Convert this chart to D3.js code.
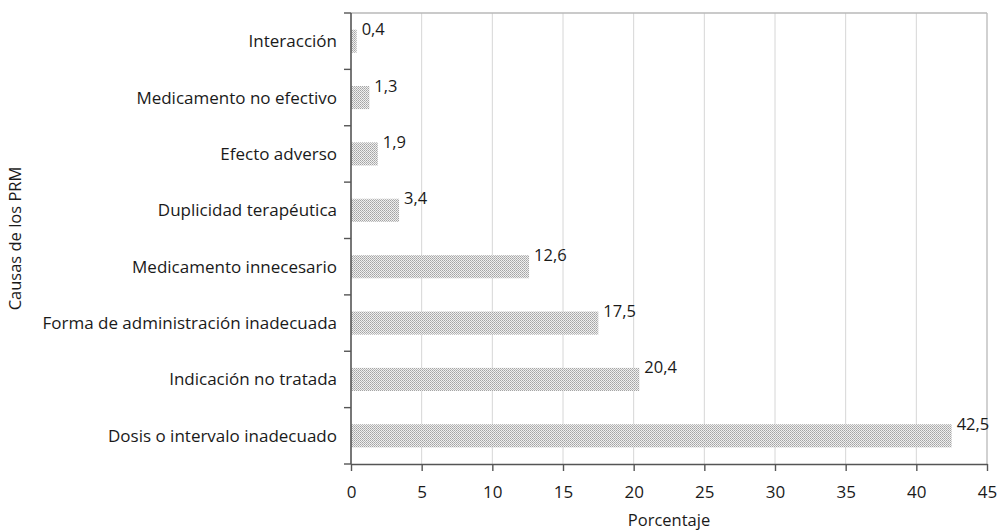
<!DOCTYPE html>
<html>
<head>
<meta charset="utf-8">
<script src="https://cdn.jsdelivr.net/npm/d3@7"></script>
<style>
  html, body { margin: 0; padding: 0; background: #fff; }
  svg { display: block; }
  text { font-family: "Open Sans", sans-serif; fill: #1a1a1a; }
</style>
</head>
<body>
<svg id="chart" width="997" height="532"></svg>
<script>
const categories = [
  "Interacción",
  "Medicamento no efectivo",
  "Efecto adverso",
  "Duplicidad terapéutica",
  "Medicamento innecesario",
  "Forma de administración inadecuada",
  "Indicación no tratada",
  "Dosis o intervalo inadecuado"
];
const values = [0.4, 1.3, 1.9, 3.4, 12.6, 17.5, 20.4, 42.5];
const valueLabels = ["0,4", "1,3", "1,9", "3,4", "12,6", "17,5", "20,4", "42,5"];
const xTicks = [0, 5, 10, 15, 20, 25, 30, 35, 40, 45];
const xTitle = "Porcentaje";
const yTitle = "Causas de los PRM";

const svg = d3.select("#chart");
const mLeft = 351, mRight = 987, mTop = 13, mBottom = 464;

const defs = svg.append("defs");
const pat = defs.append("pattern")
  .attr("id", "tex").attr("patternUnits", "userSpaceOnUse")
  .attr("width", 2).attr("height", 2);
pat.append("rect").attr("width", 2).attr("height", 2).attr("fill", "#efefef");
pat.append("rect").attr("x", 0).attr("y", 0).attr("width", 1).attr("height", 1).attr("fill", "#a4a4a4");
pat.append("rect").attr("x", 1).attr("y", 1).attr("width", 1).attr("height", 1).attr("fill", "#b6b6b6");

const x = d3.scaleLinear().domain([0, 45]).range([mLeft, mRight]);
const y = d3.scaleBand().domain(categories).range([mTop, mBottom]).paddingInner(0.59).paddingOuter(0.295);
const yb = d3.scaleLinear().domain([0, categories.length]).range([mTop, mBottom]);

// gridlines
svg.append("g").selectAll("line").data(xTicks.filter(t => t > 0 && t < 45)).join("line")
  .attr("x1", d => x(d)).attr("x2", d => x(d)).attr("y1", mTop).attr("y2", mBottom)
  .attr("stroke", "#d6d6d6").attr("stroke-width", 1);
// top and right border
svg.append("line").attr("x1", mLeft).attr("x2", mRight).attr("y1", mTop).attr("y2", mTop)
  .attr("stroke", "#b8b8b8").attr("stroke-width", 1.3);
svg.append("line").attr("x1", mRight).attr("x2", mRight).attr("y1", mTop).attr("y2", mBottom)
  .attr("stroke", "#b8b8b8").attr("stroke-width", 1.3);

// bars
svg.append("g").selectAll("rect").data(categories).join("rect")
  .attr("x", x(0))
  .attr("y", d => y(d))
  .attr("width", (d, i) => x(values[i]) - x(0))
  .attr("height", y.bandwidth())
  .attr("fill", "url(#tex)");

// value labels
svg.append("g").selectAll("text").data(categories).join("text")
  .attr("x", (d, i) => x(values[i]) + 5)
  .attr("y", d => y(d) + y.bandwidth() / 2 - 6)
  .attr("font-size", 16.5)
  .text((d, i) => valueLabels[i]);

// x axis
const xAxis = d3.axisBottom(x).tickValues(xTicks).tickSize(7).tickSizeOuter(0).tickPadding(15);
const gx = svg.append("g").attr("transform", `translate(0,${mBottom})`).call(xAxis);
gx.select(".domain").attr("stroke", "#555").attr("stroke-width", 1.6);
gx.selectAll(".tick line").attr("stroke", "#555").attr("stroke-width", 1.4);
gx.selectAll(".tick text").attr("font-size", 17).attr("font-family", "Open Sans").attr("fill", "#1a1a1a");

// y axis line + boundary ticks
svg.append("line").attr("x1", mLeft).attr("x2", mLeft).attr("y1", mTop).attr("y2", mBottom)
  .attr("stroke", "#555").attr("stroke-width", 1.6);
svg.append("g").selectAll("line").data(d3.range(categories.length + 1)).join("line")
  .attr("x1", mLeft - 7).attr("x2", mLeft).attr("y1", d => yb(d)).attr("y2", d => yb(d))
  .attr("stroke", "#555").attr("stroke-width", 1.4);

// category labels
svg.append("g").selectAll("text").data(categories).join("text")
  .attr("x", mLeft - 14)
  .attr("y", d => y(d) + y.bandwidth() / 2)
  .attr("dy", "0.35em")
  .attr("text-anchor", "end")
  .attr("font-size", 17)
  .text(d => d);

// titles
svg.append("text").attr("x", (mLeft + mRight) / 2).attr("y", 526)
  .attr("text-anchor", "middle").attr("font-size", 16.5).text(xTitle);
svg.append("text").attr("transform", `translate(21,${(mTop + mBottom) / 2}) rotate(-90)`)
  .attr("text-anchor", "middle").attr("font-size", 16.5).text(yTitle);
</script>
</body>
</html>
